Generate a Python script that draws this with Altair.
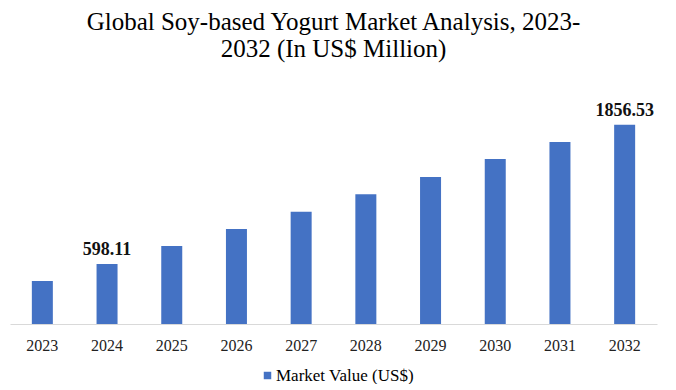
import altair as alt
import pandas as pd

years = ["2023", "2024", "2025", "2026", "2027", "2028", "2029", "2030", "2031", "2032"]
values = [444.6, 598.11, 760.8, 914.3, 1070.6, 1227.8, 1384.1, 1546.7, 1700.3, 1856.53]
labels = ["", "598.11", "", "", "", "", "", "", "", "1856.53"]
series = "Market Value (US$)"
axis_min = 56
axis_max = 2080

df = pd.DataFrame({"year": years, "value": values, "label": labels, "series": [series] * len(years)})

FONT = "Liberation Serif"

base = alt.Chart(df)

bars = base.mark_bar(size=21).encode(
    x=alt.X("year:N", sort=years, title=None,
            scale=alt.Scale(paddingInner=0, paddingOuter=0),
            axis=alt.Axis(labelAngle=0, labelFont=FONT, labelFontSize=16, labelColor="#222222",
                          ticks=False, tickSize=0, labelPadding=13,
                          domainColor="#d9d9d9", domainWidth=1, grid=False)),
    y=alt.Y("value:Q", scale=alt.Scale(domain=[axis_min, axis_max], zero=False, nice=False), axis=None),
    y2=alt.datum(axis_min),
    color=alt.Color("series:N", scale=alt.Scale(range=["#4472C4"]), title=None,
                    legend=alt.Legend(orient="none", legendX=249, legendY=267, symbolType="square",
                                      symbolSize=56, labelFont=FONT, labelFontSize=17, labelColor="#000000",
                                      labelOffset=0, padding=0)),
)

text = base.transform_filter(alt.datum.label != "").mark_text(
    font=FONT, fontSize=18, fontWeight="bold", dy=-9, baseline="alphabetic", align="center", color="#111111"
).encode(
    x=alt.X("year:N", sort=years),
    y=alt.Y("value:Q"),
    text="label:N",
)

chart = (bars + text).properties(
    width=647, height=224,
    title=alt.TitleParams(
        text=["Global Soy-based Yogurt Market Analysis, 2023-", "2032 (In US$ Million)"],
        font=FONT, fontSize=25, fontWeight="normal", color="#000000", anchor="middle",
        lineHeight=27, offset=38.5,
    ),
    autosize=alt.AutoSizeParams(type="none"),
    padding={"left": 2, "top": 92, "right": 10, "bottom": 60},
).configure_view(stroke=None)

chart.save("out.html", embed_options={"renderer": "svg", "actions": False})
